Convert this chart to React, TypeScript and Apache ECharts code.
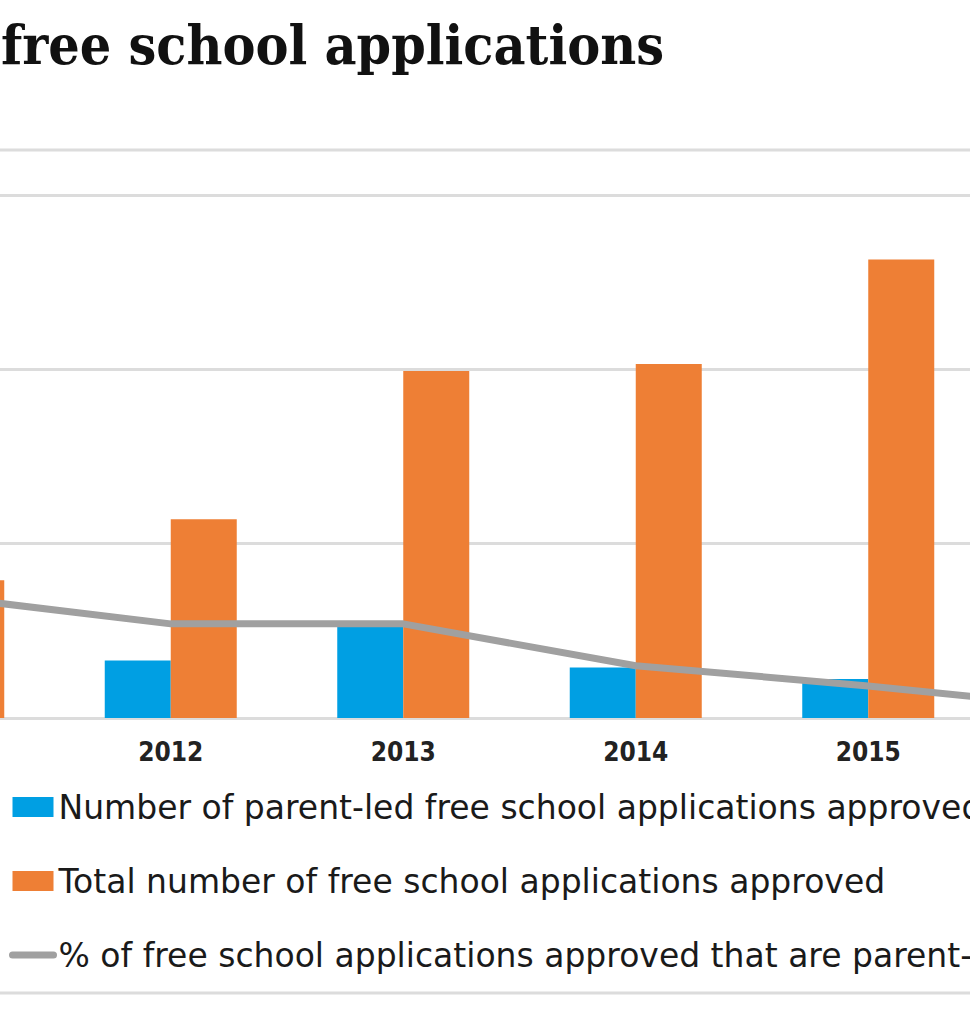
import React, { useEffect, useRef } from "react";
import * as echarts from "echarts";

const years = ["2011", "2012", "2013", "2014", "2015", "2016"];
const parentLed = [14, 16.5, 26.5, 14.5, 11.2, null];
const totalApproved = [39.5, 57, 99.5, 101.5, 131.5, null];
const percentParentLed = [35, 27, 27, 15, 9.2, 2.5];
const yTicks = [0, 50, 100, 150];

const TITLE = "free school applications";
const NAME_BLUE = "Number of parent-led free school applications approved";
const NAME_ORANGE = "Total number of free school applications approved";
const NAME_LINE = "% of free school applications approved that are parent-led";

const BLUE = "#009FE3";
const ORANGE = "#EE7F35";
const GREY = "#A0A0A0";
const RULE = "#DCDCDC";
const COND = "'DejaVu Sans Condensed', 'DejaVu Sans', sans-serif";
const SANS = "'DejaVu Sans', sans-serif";

// the visible picture is a crop of a wider chart
const OFF_L = 178;
const OFF_R = 247;
const VIEW_W = 970;
const VIEW_H = 1024;

export default function App() {
  const ref = useRef<HTMLDivElement>(null);
  useEffect(() => {
    if (!ref.current) return;
    const chart = echarts.init(ref.current, null, { renderer: "svg" });
    chart.setOption({
      animation: false,
      backgroundColor: "#ffffff",
      title: {
        text: TITLE,
        left: OFF_L - 4,
        top: 12,
        textStyle: {
          fontFamily: "'DejaVu Serif Condensed', 'DejaVu Serif', serif",
          fontSize: 55,
          fontWeight: "bold",
          color: "#111111",
        },
      },
      graphic: [
        { type: "line", shape: { x1: OFF_L, y1: 150, x2: OFF_L + VIEW_W, y2: 150 }, style: { stroke: RULE, lineWidth: 3 } },
        { type: "line", shape: { x1: OFF_L, y1: 993, x2: OFF_L + VIEW_W, y2: 993 }, style: { stroke: RULE, lineWidth: 3 } },
      ],
      grid: { left: 0, right: 0, top: 195, bottom: 306, containLabel: false },
      legend: {
        orient: "vertical",
        left: OFF_L + 9,
        top: 790,
        padding: 0,
        itemWidth: 41,
        itemHeight: 20,
        itemGap: 40,
        itemTextGap: 8,
        selectedMode: false,
        textStyle: { fontFamily: SANS, fontSize: 33, color: "#1a1a1a", lineHeight: 34 },
        data: [
          { name: NAME_BLUE, icon: "rect" },
          { name: NAME_ORANGE, icon: "rect" },
          { name: NAME_LINE, itemStyle: { opacity: 0 }, lineStyle: { width: 7, cap: "round", color: GREY } },
        ],
      },
      xAxis: {
        type: "category",
        data: years,
        axisLine: { show: true, lineStyle: { color: RULE, width: 3 } },
        axisTick: { show: false },
        axisLabel: {
          fontFamily: COND,
          fontSize: 26,
          fontWeight: "bold",
          color: "#222222",
          margin: 21,
          interval: (index: number) => index > 0 && index < years.length - 1,
        },
      },
      yAxis: [
        {
          type: "value",
          min: yTicks[0],
          max: yTicks[yTicks.length - 1],
          interval: yTicks[1] - yTicks[0],
          axisLabel: { show: false },
          axisLine: { show: false },
          axisTick: { show: false },
          splitLine: { lineStyle: { color: RULE, width: 3 } },
        },
        {
          type: "value",
          min: 0,
          max: 150,
          interval: 50,
          show: false,
          splitLine: { show: false },
        },
      ],
      series: [
        {
          name: NAME_BLUE,
          type: "bar",
          data: parentLed,
          barWidth: 66,
          barGap: "0%",
          itemStyle: { color: BLUE },
          z: 2,
        },
        {
          name: NAME_ORANGE,
          type: "bar",
          data: totalApproved,
          barWidth: 66,
          barGap: "0%",
          itemStyle: { color: ORANGE },
          z: 2,
        },
        {
          name: NAME_LINE,
          type: "line",
          yAxisIndex: 1,
          data: percentParentLed,
          symbol: "none",
          showSymbol: false,
          lineStyle: { color: GREY, width: 7, cap: "round" },
          itemStyle: { color: GREY },
          z: 5,
        },
      ],
    });
    return () => chart.dispose();
  }, []);
  return (
    <div
      style={{ position: "fixed", left: 0, top: 0, width: VIEW_W, height: VIEW_H, overflow: "hidden", background: "#fff" }}
    >
      <div
        ref={ref}
        style={{ position: "absolute", left: -OFF_L, top: 0, width: VIEW_W + OFF_L + OFF_R, height: VIEW_H }}
      />
    </div>
  );
}
